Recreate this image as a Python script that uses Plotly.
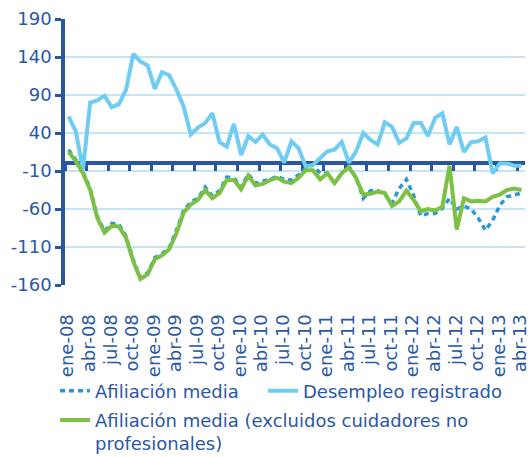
import plotly.graph_objects as go

# ---------------- data ----------------
meses = ["ene", "feb", "mar", "abr", "may", "jun", "jul", "ago", "sep", "oct", "nov", "dic"]
categorias = [f"{m}-{a:02d}" for a in range(8, 14) for m in meses][:64]

tick_labels = ["ene-08", "abr-08", "jul-08", "oct-08",
               "ene-09", "abr-09", "jul-09", "oct-09",
               "ene-10", "abr-10", "jul-10", "oct-10",
               "ene-11", "abr-11", "jul-11", "oct-11",
               "ene-12", "abr-12", "jul-12", "oct-12",
               "ene-13", "abr-13"]

afiliacion_media = [18, 5, -11, -33, -70, -89, -79, -80, -96, -127, -150, -144, -124, -119, -111, -88,
                    -62, -51, -46, -31, -43, -36, -18, -19, -31, -14, -26, -24, -21, -17, -21, -22,
                    -15, -6, -2, -13, -13, -26, -13, -4, -19, -46, -36, -36, -41, -52, -33, -21,
                    -42, -69, -66, -66, -59, -46, -60, -56, -60, -72, -88, -75, -55, -44, -41, -39]

desempleo_registrado = [62, 42, -8, 80, 83, 89, 74, 78, 97, 144, 134, 129, 98, 120, 116, 97,
                        75, 38, 47, 53, 66, 28, 22, 52, 11, 36, 28, 38, 25, 20, 1, 29,
                        20, -4, -2, 7, 16, 18, 28, 1, 16, 40, 31, 25, 54, 48, 27, 33,
                        53, 53, 36, 60, 66, 25, 48, 15, 28, 29, 34, -13, 0, 0, -3, -3]

afiliacion_excl = [15, 3, -13, -35, -72, -91, -82, -83, -98, -129, -152, -146, -126, -121, -113, -92,
                   -65, -54, -48, -35, -46, -39, -22, -22, -34, -16, -29, -27, -22, -19, -24, -26,
                   -19, -9, -9, -21, -13, -26, -13, -5, -19, -41, -40, -37, -39, -56, -50, -36,
                   -48, -63, -60, -62, -57, -3, -87, -46, -50, -49, -50, -44, -41, -35, -33, -35]

y_ticks = [-160, -110, -60, -10, 40, 90, 140, 190]
y_tick_text = ["-160", "-110", "-60", "-10", "40", "90", "140", "190"]

# ---------------- style ----------------
FONT = "DejaVu Sans"
TXT = "#2a58a6"
AXIS = "#2856a3"
GRID = "#c6e5f4"
C_AFI = "#2a98d8"
C_DES = "#6fcdf3"
C_EXC = "#7cc143"

fig = go.Figure()
fig.add_trace(go.Scatter(x=categorias, y=afiliacion_media, name="Afiliación media",
                         mode="lines", line=dict(color=C_AFI, width=3.5, dash="5px,4px"),
                         legend="legend"))
fig.add_trace(go.Scatter(x=categorias, y=desempleo_registrado, name="Desempleo registrado",
                         mode="lines", line=dict(color=C_DES, width=4), legend="legend2"))
fig.add_trace(go.Scatter(x=categorias, y=afiliacion_excl,
                         name="Afiliación media (excluidos cuidadores no<br>profesionales)",
                         mode="lines", line=dict(color=C_EXC, width=4), legend="legend3"))
# helper (empty) trace to register the zero-line axis
fig.add_trace(go.Scatter(x=[None], y=[None], xaxis="x2", showlegend=False, hoverinfo="skip"))

ymin, ymax = y_ticks[0], y_ticks[-1]
n = len(categorias)

leg = dict(orientation="v", xanchor="left", yanchor="top", valign="top",
           font=dict(family=FONT, size=18, color=TXT),
           itemwidth=30, bgcolor="rgba(0,0,0,0)")

fig.update_layout(
    width=530, height=457,
    margin=dict(l=65, r=5, t=19, b=172, autoexpand=False),
    paper_bgcolor="white", plot_bgcolor="white",
    font=dict(family=FONT, size=18, color=TXT),
    showlegend=True,
    legend=dict(x=-0.0217, y=-0.329, **leg),
    legend2=dict(x=0.4304, y=-0.329, **leg),
    legend3=dict(x=-0.0217, y=-0.439, **leg),
    xaxis=dict(type="category", range=[-0.5, n - 0.5], tickmode="array",
               tickvals=tick_labels, ticktext=tick_labels, tickangle=-90,
               showgrid=False, zeroline=False, showline=False,
               ticks="outside", ticklen=21, tickcolor="rgba(0,0,0,0)",
               automargin=False, ticklabelshift=-1,
               tickfont=dict(family=FONT, size=18, color=TXT)),
    xaxis2=dict(overlaying="x", anchor="free",
                position=(0 - ymin) / (ymax - ymin),
                range=[-0.5, n - 0.5], tickmode="array",
                tickvals=[i - 0.5 for i in range(0, n, 3)],
                showticklabels=False, ticks="outside", ticklen=6, tickwidth=2.5,
                tickcolor=AXIS, showline=True, linecolor=AXIS, linewidth=4,
                showgrid=False, zeroline=False, layer="below traces"),
    yaxis=dict(range=[ymin, ymax], tickmode="array", tickvals=y_ticks, ticktext=y_tick_text,
               showgrid=True, gridcolor=GRID, gridwidth=1.5, zeroline=False,
               showline=True, linecolor=AXIS, linewidth=3.5,
               ticks="outside", ticklen=6, tickwidth=2.5, tickcolor=AXIS,
               automargin=False,
               tickfont=dict(family=FONT, size=18, color=TXT)),
)

fig.write_html("out.html",
               config={"displayModeBar": False},
               post_script="document.body.style.margin='0px';document.body.style.overflow='hidden';")
